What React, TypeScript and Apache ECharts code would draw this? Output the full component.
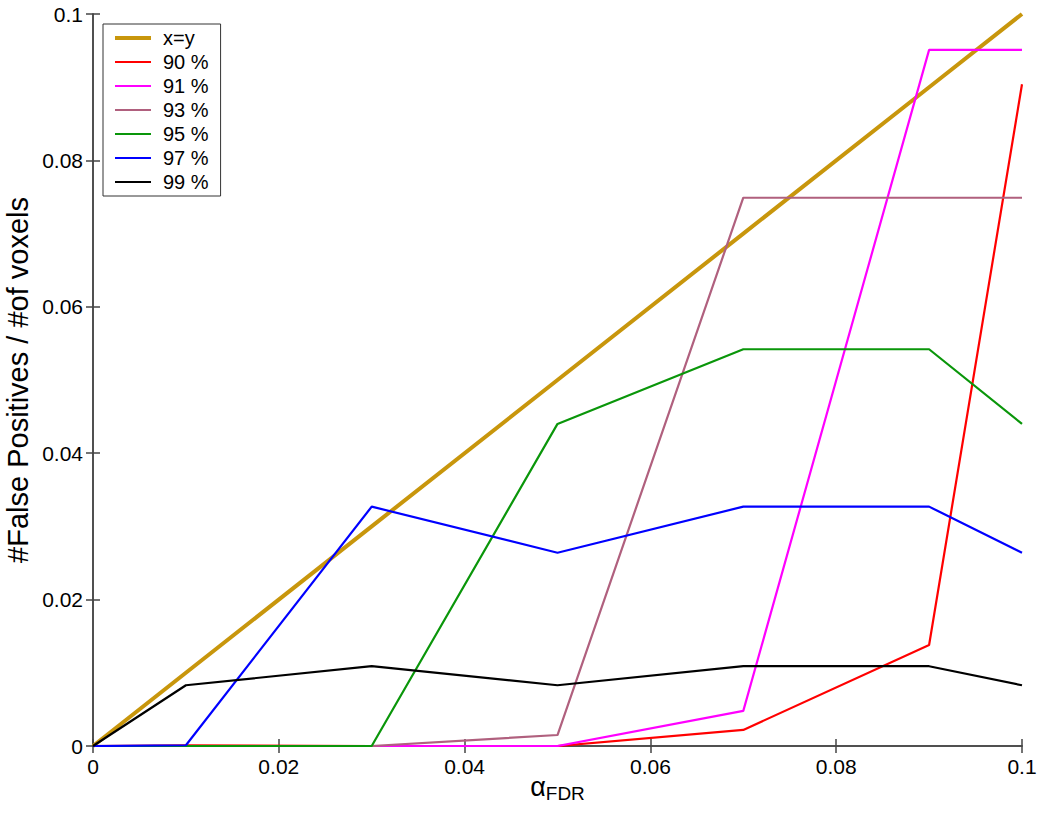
import React, { useEffect, useRef } from "react";
import * as echarts from "echarts";

const xs = [0, 0.01, 0.03, 0.05, 0.07, 0.09, 0.1];
const xyLine = [0, 0.01, 0.03, 0.05, 0.07, 0.09, 0.1];
const p90 = [0, 0.0001, 0, 0, 0.0022, 0.0138, 0.0904];
const p91 = [0, 0, 0, 0, 0.0048, 0.0951, 0.0951];
const p93 = [0, 0, 0, 0.0015, 0.0749, 0.0749, 0.0749];
const p95 = [0, 0, 0, 0.044, 0.0542, 0.0542, 0.044];
const p97 = [0, 0.0001, 0.0327, 0.0264, 0.0327, 0.0327, 0.0264];
const p99 = [0, 0.0083, 0.0109, 0.0083, 0.0109, 0.0109, 0.0083];

const seriesNames = ["x=y", "90 %", "91 %", "93 %", "95 %", "97 %", "99 %"];
const seriesData = [xyLine, p90, p91, p93, p95, p97, p99];
const seriesColors = ["#C8960C", "#FF0000", "#FF00FF", "#B0607E", "#0A960A", "#0000FF", "#000000"];
const seriesWidths = [4, 2.2, 2.2, 2.2, 2.2, 2.2, 2.2];

const FONT = "Liberation Sans, Arial, sans-serif";

export default function App() {
  const ref = useRef<HTMLDivElement>(null);
  useEffect(() => {
    if (!ref.current) return;
    const chart = echarts.init(ref.current, null, { renderer: "svg" });
    const axisLine = { show: true, lineStyle: { color: "#444", width: 1.5 } };
    const tick = { show: true, inside: true, length: 7, lineStyle: { color: "#444", width: 1.5 } };
    chart.setOption({
      animation: false,
      backgroundColor: "#fff",
      textStyle: { fontFamily: FONT },
      grid: { left: 93, right: 19, top: 14, bottom: 67, containLabel: false, outerBoundsMode: "none" },
      legend: {
        orient: "vertical",
        left: 103,
        top: 24,
        borderColor: "#333",
        borderWidth: 1,
        backgroundColor: "#fff",
        padding: [4, 12, 4, 12],
        itemGap: 4,
        itemWidth: 36,
        itemHeight: 20,
        symbolKeepAspect: true,
        textStyle: { fontSize: 20, lineHeight: 20, color: "#000", fontFamily: FONT, padding: [0, 0, 0, 7] },
        data: seriesNames.map((name, i) => ({
          name,
          icon: i === 0 ? "path://M0,0L36,0L36,4L0,4Z" : "path://M0,0L36,0L36,2L0,2Z",
        })),
      },
      xAxis: [
        {
          type: "value",
          min: 0,
          max: 0.1,
          interval: 0.02,
          axisLine,
          axisTick: tick,
          splitLine: { show: false },
          axisLabel: {
            fontSize: 21,
            color: "#000",
            margin: 10,
            formatter: (v: number) => String(parseFloat(v.toFixed(2))),
          },
          name: "{a|α}{s|FDR}",
          nameLocation: "middle",
          nameGap: 24,
          nameMoveOverlap: false,
          nameTextStyle: {
            rich: {
              a: { fontSize: 27, color: "#000", fontFamily: FONT },
              s: { fontSize: 19, color: "#000", fontFamily: FONT, padding: [14, 0, 0, 0] },
            },
          },
        },
        {
          type: "value",
          position: "top",
          min: 0,
          max: 0.1,
          interval: 0.02,
          axisLine,
          axisTick: tick,
          axisLabel: { show: false },
          splitLine: { show: false },
        },
      ],
      yAxis: [
        {
          type: "value",
          min: 0,
          max: 0.1,
          interval: 0.02,
          axisLine,
          axisTick: tick,
          splitLine: { show: false },
          axisLabel: {
            fontSize: 21,
            color: "#000",
            margin: 10,
            formatter: (v: number) => String(parseFloat(v.toFixed(2))),
          },
          name: "#False Positives / #of voxels",
          nameLocation: "middle",
          nameGap: 61,
          nameMoveOverlap: false,
          nameTextStyle: { fontSize: 29, color: "#000", fontFamily: FONT },
        },
        {
          type: "value",
          position: "right",
          min: 0,
          max: 0.1,
          interval: 0.02,
          axisLine,
          axisTick: tick,
          axisLabel: { show: false },
          splitLine: { show: false },
        },
      ],
      series: seriesNames.map((name, i) => ({
        name,
        type: "line",
        showSymbol: false,
        symbol: "none",
        z: i === 0 ? 1 : 2 + i,
        data: xs.map((x, j) => [x, seriesData[i][j]]),
        lineStyle: { color: seriesColors[i], width: seriesWidths[i] },
        itemStyle: { color: seriesColors[i] },
      })),
    });
    return () => chart.dispose();
  }, []);
  return <div ref={ref} style={{ width: 1041, height: 813, position: "absolute", left: 0, top: 0 }} />;
}
